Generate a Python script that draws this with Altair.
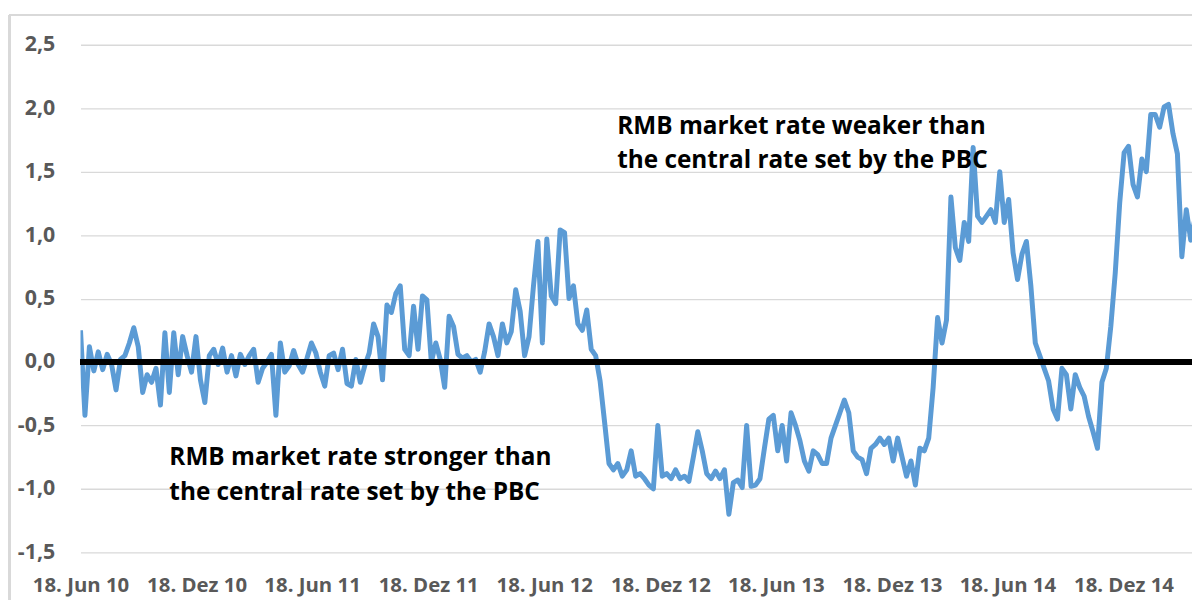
import altair as alt
import pandas as pd

start_date = "2010-06-18"
spread = [
    0.25, -0.42, 0.12, -0.07, 0.08, -0.06, 0.06, -0.02, -0.22, 0.02,
    0.05, 0.15, 0.27, 0.12, -0.24, -0.10, -0.16, -0.05, -0.34, 0.23,
    -0.24, 0.23, -0.10, 0.20, 0.05, -0.08, 0.20, -0.14, -0.32, 0.05,
    0.10, -0.02, 0.11, -0.08, 0.05, -0.11, 0.06, -0.02, 0.05, 0.10,
    -0.16, -0.05, 0.00, 0.06, -0.42, 0.15, -0.08, -0.03, 0.09, -0.02,
    -0.08, 0.03, 0.15, 0.07, -0.08, -0.19, 0.05, 0.07, -0.06, 0.10,
    -0.17, -0.19, 0.02, -0.16, -0.03, 0.07, 0.30, 0.20, -0.14, 0.45,
    0.39, 0.54, 0.60, 0.10, 0.05, 0.44, 0.10, 0.52, 0.49, 0.00,
    0.15, 0.02, -0.20, 0.36, 0.28, 0.06, 0.03, 0.05, 0.00, 0.02,
    -0.08, 0.08, 0.30, 0.20, 0.05, 0.30, 0.15, 0.24, 0.57, 0.40,
    0.05, 0.20, 0.60, 0.95, 0.15, 0.97, 0.52, 0.46, 1.04, 1.02,
    0.50, 0.60, 0.30, 0.25, 0.41, 0.10, 0.05, -0.15, -0.47, -0.80,
    -0.85, -0.80, -0.90, -0.85, -0.70, -0.90, -0.88, -0.92, -0.97, -1.00,
    -0.50, -0.90, -0.88, -0.92, -0.85, -0.92, -0.90, -0.94, -0.75, -0.55,
    -0.70, -0.88, -0.92, -0.86, -0.92, -0.85, -1.20, -0.95, -0.93, -0.99,
    -0.50, -0.98, -0.97, -0.92, -0.68, -0.45, -0.42, -0.70, -0.50, -0.78,
    -0.40, -0.50, -0.62, -0.78, -0.86, -0.70, -0.73, -0.80, -0.80, -0.60,
    -0.50, -0.40, -0.30, -0.40, -0.70, -0.75, -0.77, -0.88, -0.68, -0.65,
    -0.60, -0.65, -0.60, -0.78, -0.60, -0.75, -0.90, -0.78, -0.97, -0.68,
    -0.70, -0.60, -0.20, 0.35, 0.15, 0.33, 1.30, 0.90, 0.80, 1.10,
    0.95, 1.69, 1.15, 1.10, 1.15, 1.20, 1.10, 1.50, 1.10, 1.28,
    0.86, 0.65, 0.85, 0.95, 0.60, 0.15, 0.05, -0.05, -0.15, -0.37,
    -0.45, -0.05, -0.10, -0.37, -0.10, -0.20, -0.27, -0.43, -0.55, -0.68,
    -0.16, -0.05, 0.28, 0.70, 1.25, 1.65, 1.70, 1.40, 1.30, 1.60,
    1.50, 1.95, 1.95, 1.85, 2.01, 2.03, 1.80, 1.64, 0.83, 1.20,
    0.96, 1.14,
]

tick_dates = ["2010-06-18", "2010-12-18", "2011-06-18", "2011-12-18", "2012-06-18",
              "2012-12-18", "2013-06-18", "2013-12-18", "2014-06-18", "2014-12-18"]
y_ticks = [-1.5, -1.0, -0.5, 0.0, 0.5, 1.0, 1.5, 2.0, 2.5]

notes_text = ["RMB market rate weaker than", "the central rate set by the PBC",
              "RMB market rate stronger than", "the central rate set by the PBC"]
notes_date = ["2012-10-11", "2012-10-11", "2010-11-05", "2010-11-05"]
notes_value = [1.80, 1.525, -0.81, -1.09]

dates = pd.date_range(start_date, periods=len(spread), freq="7D").strftime("%Y-%m-%d")
df = pd.DataFrame({"date": dates, "value": spread})
notes = pd.DataFrame({"date": notes_date, "value": notes_value, "text": notes_text})

FONT = "Open Sans"
GREY = "#595959"

def dt(s):
    y, m, d = (int(p) for p in s.split("-"))
    return alt.DateTime(year=y, month=m, date=d, utc=True)

x_scale = alt.Scale(type="utc", domain=[dt("2010-06-18"), dt("2015-04-05")], nice=False)
y_scale = alt.Scale(domain=[-1.5, 2.5], nice=False, zero=False)

x_axis = alt.Axis(
    values=[dt(s) for s in tick_dates],
    labelExpr="utcFormat(datum.value, '%d') + '. ' + (utcmonth(datum.value) == 5 ? 'Jun' : 'Dez') + ' ' + utcFormat(datum.value, '%y')",
    title=None, domain=False, ticks=False, grid=False,
    labelFont=FONT, labelFontSize=20.5, labelFontWeight="bold", labelColor=GREY,
    labelPadding=23, labelBaseline="top", labelOverlap=False, labelFlush=False,
)
y_axis = alt.Axis(
    values=y_ticks,
    labelExpr="replace(replace(replace(format(datum.value, '.1f'), '\u2212', '-'), '.', ','), '\u2212', '-')",
    title=None, domain=False, ticks=False, grid=True,
    gridColor="#d9d9d9", gridWidth=1.3,
    labelFont=FONT, labelFontSize=21.5, labelFontWeight="bold", labelColor=GREY,
    labelPadding=26,
)

line = alt.Chart(df).mark_line(color="#5B9BD5", strokeWidth=5, clip=True, strokeJoin="round").encode(
    x=alt.X("date:T", scale=x_scale, axis=x_axis),
    y=alt.Y("value:Q", scale=y_scale, axis=y_axis),
)

zero = alt.Chart(df).mark_rule(color="black", strokeWidth=5).encode(y=alt.datum(0))

texts = alt.Chart(notes).mark_text(
    font=FONT, fontSize=24.5, fontWeight="bold", color="black", align="left", baseline="alphabetic"
).encode(
    x=alt.X("date:T", scale=x_scale),
    y=alt.Y("value:Q", scale=y_scale),
    text="text:N",
)

frame_left = alt.Chart(df).mark_rule(color="#d9d9d9", strokeWidth=1.5).encode(
    x=alt.value(-71.5), y=alt.value(-30), y2=alt.value(560)
)
frame_top = alt.Chart(df).mark_rule(color="#d9d9d9", strokeWidth=1.5).encode(
    x=alt.value(-71.5), x2=alt.value(1130), y=alt.value(-30)
)

chart = alt.layer(frame_left, frame_top, line, zero, texts).properties(
    width=1119, height=511,
    padding={"left": 73, "top": 35, "right": 0, "bottom": 46},
    autosize=alt.AutoSizeParams(type="none"),
).configure_view(stroke=None)

chart.save("out.html", embed_options={"renderer": "svg", "actions": False})
